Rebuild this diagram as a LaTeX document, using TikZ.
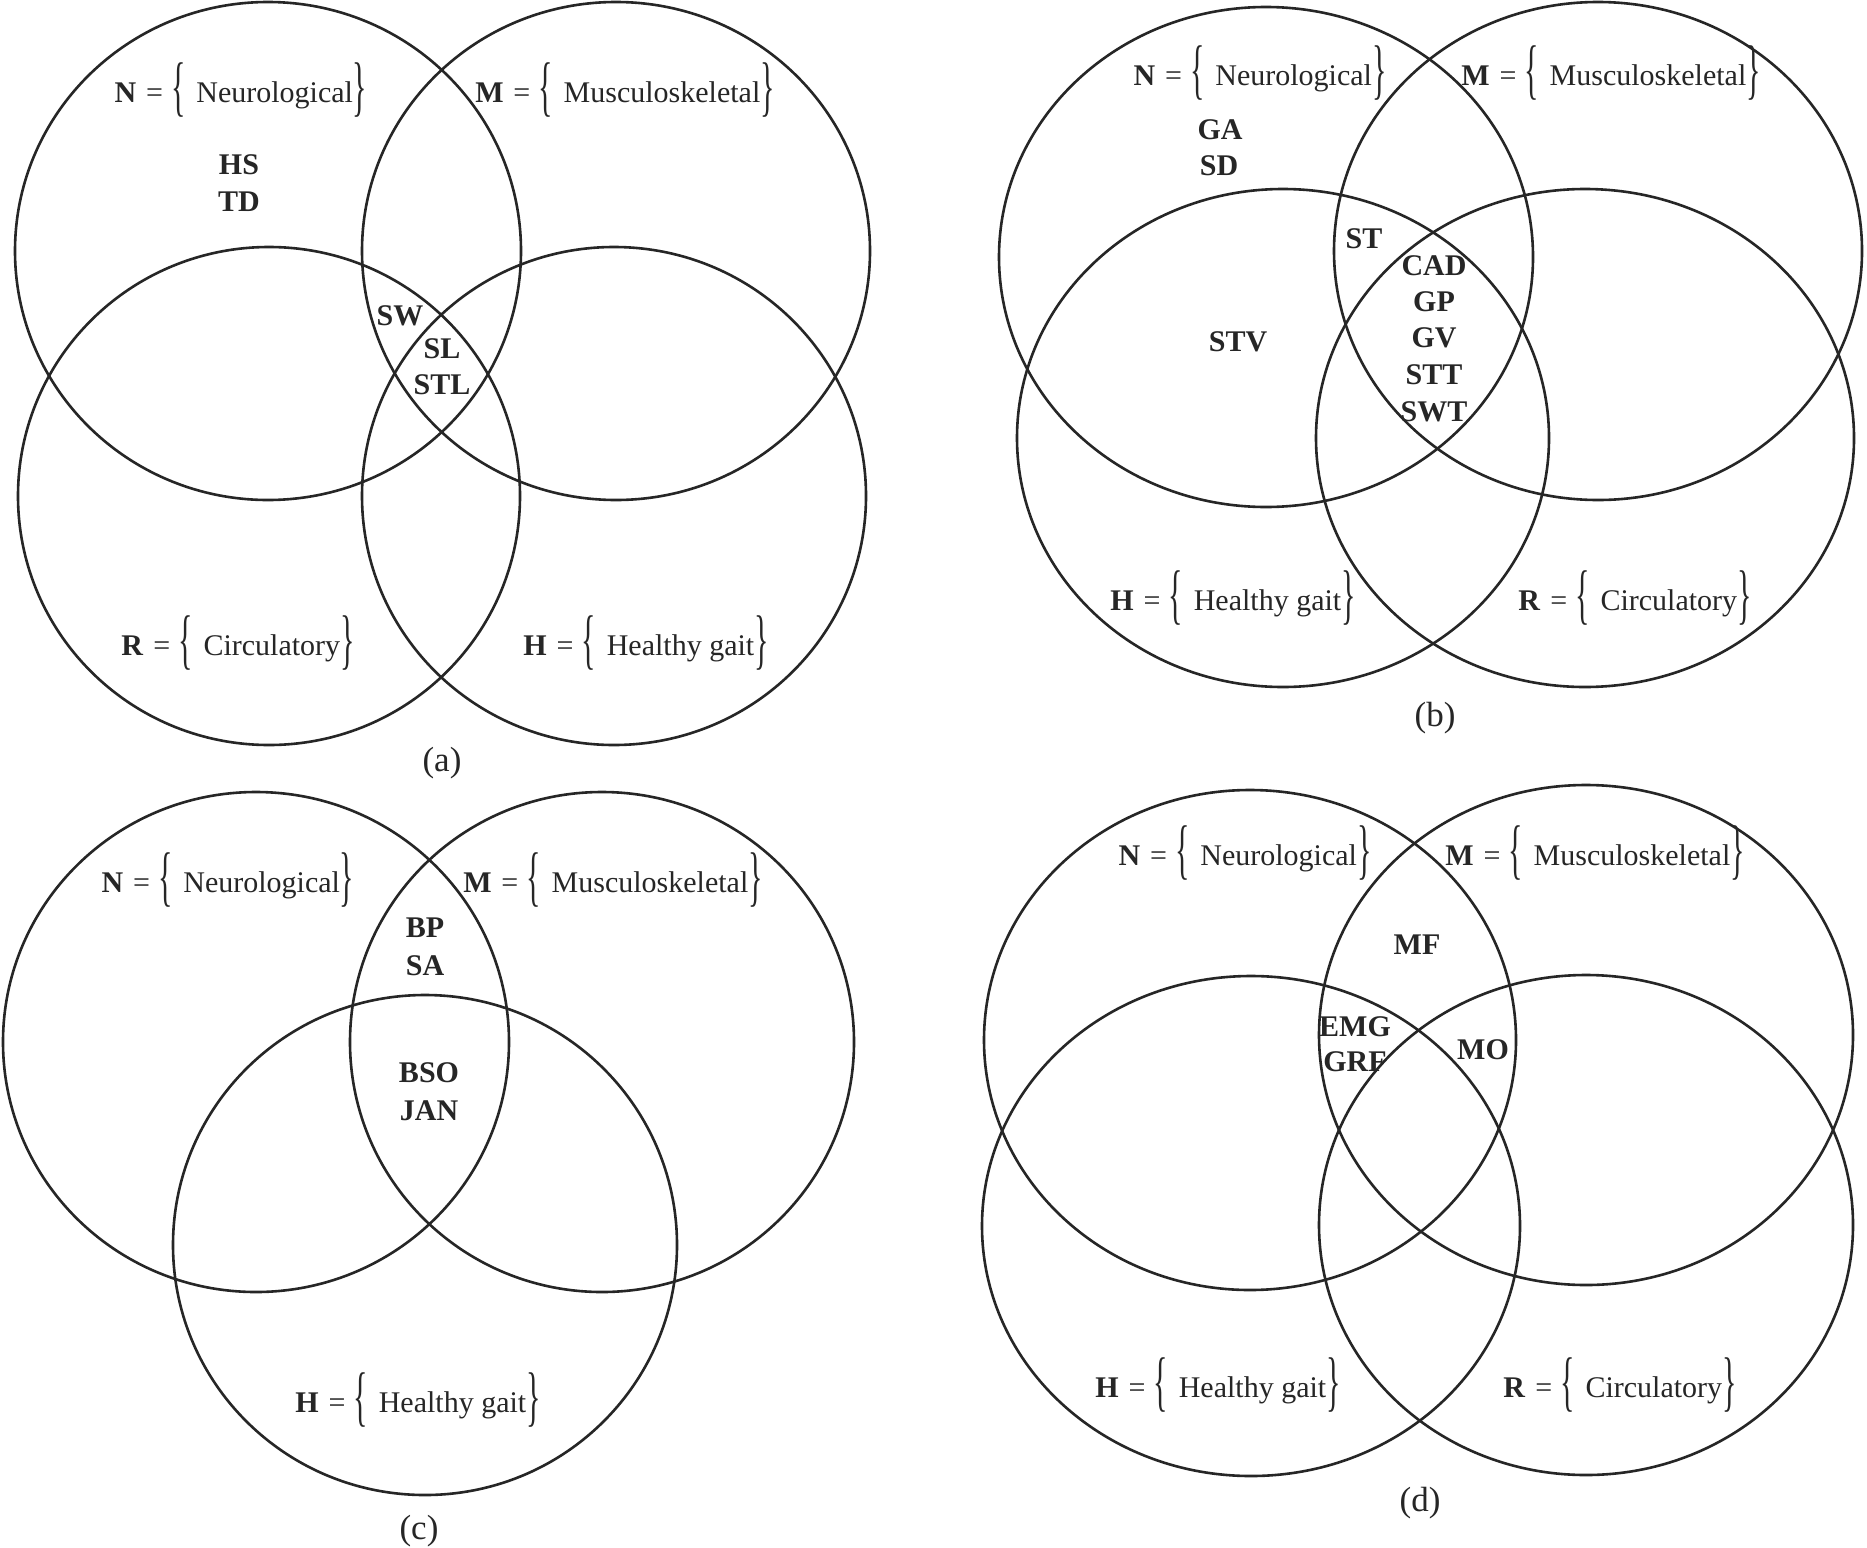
\documentclass[tikz,border=0pt]{standalone}
\usepackage{fontspec}
\setmainfont{Liberation Serif}
\usepackage{graphicx}
\newcommand{\lbr}{\raisebox{-0.22em}{\scalebox{1}[2.2]{\{}}}
\newcommand{\rbr}{\raisebox{-0.22em}{\scalebox{1}[2.2]{\}}}}
\newcommand{\setlab}[2]{\textbf{#1}\hspace{0.33em}=\hspace{0.28em}\lbr\hspace{0.35em}#2\rbr}
\tikzset{
  venn/.style={line width=2.6pt, draw=black!85},
  lab/.style={anchor=base, inner sep=0pt, text=black!85, font=\fontsize{30}{36}\selectfont},
  item/.style={lab, font=\fontsize{30}{36}\selectfont\bfseries},
  caption/.style={lab, font=\fontsize{35}{42}\selectfont}
}
\begin{document}
\begin{tikzpicture}[x=1pt,y=-1pt]
\useasboundingbox[fill=white] (0,0) rectangle (1867,1547);
% ---------- panel (a)
\draw[venn] (268,251) ellipse (253 and 249);
\draw[venn] (616,251) ellipse (254 and 249);
\draw[venn] (269,496) ellipse (251 and 249);
\draw[venn] (614,496) ellipse (252 and 249);
\node[lab] (aN) at (241,102) {\setlab{N}{Neurological}};
\node[lab] (aM) at (625,102) {\setlab{M}{Musculoskeletal}};
\node[item] (aHS) at (239,174) {HS};
\node[item] (aTD) at (239,211) {TD};
\node[item] (aSW) at (400,325) {SW};
\node[item] (aSL) at (442,358) {SL};
\node[item] (aSTL) at (442,394) {STL};
\node[lab] (aR) at (238,655) {\setlab{R}{Circulatory}};
\node[lab] (aH) at (646,655) {\setlab{H}{Healthy gait}};
\node[caption] (acap) at (442,771) {(a)};
% ---------- panel (b)
\draw[venn] (1266,257) ellipse (267 and 250);
\draw[venn] (1598,251) ellipse (264 and 249);
\draw[venn] (1283,438) ellipse (266 and 249);
\draw[venn] (1585,438) ellipse (269 and 249);
\node[lab] (bN) at (1260,85) {\setlab{N}{Neurological}};
\node[lab] (bM) at (1611,85) {\setlab{M}{Musculoskeletal}};
\node[item] (bGA) at (1220,139) {GA};
\node[item] (bSD) at (1219,175) {SD};
\node[item] (bST) at (1364,248) {ST};
\node[item] (bCAD) at (1434,275) {CAD};
\node[item] (bGP) at (1434,311) {GP};
\node[item] (bGV) at (1434,347) {GV};
\node[item] (bSTT) at (1434,384) {STT};
\node[item] (bSWT) at (1434,421) {SWT};
\node[item] (bSTV) at (1238,351) {STV};
\node[lab] (bH) at (1233,610) {\setlab{H}{Healthy gait}};
\node[lab] (bR) at (1635,610) {\setlab{R}{Circulatory}};
\node[caption] (bcap) at (1435,726) {(b)};
% ---------- panel (c)
\draw[venn] (256,1042) ellipse (253 and 250);
\draw[venn] (602,1042) ellipse (252 and 250);
\draw[venn] (425,1245) ellipse (252 and 250);
\node[lab] (cN) at (228,892) {\setlab{N}{Neurological}};
\node[lab] (cM) at (613,892) {\setlab{M}{Musculoskeletal}};
\node[item] (cBP) at (425,937) {BP};
\node[item] (cSA) at (425,975) {SA};
\node[item] (cBSO) at (429,1082) {BSO};
\node[item] (cJAN) at (429,1120) {JAN};
\node[lab] (cH) at (418,1412) {\setlab{H}{Healthy gait}};
\node[caption] (ccap) at (419,1539) {(c)};
% ---------- panel (d)
\draw[venn] (1250,1040) ellipse (266 and 250);
\draw[venn] (1586,1035) ellipse (267 and 250);
\draw[venn] (1251,1226) ellipse (269 and 250);
\draw[venn] (1586,1225) ellipse (267 and 250);
\node[lab] (dN) at (1245,865) {\setlab{N}{Neurological}};
\node[lab] (dM) at (1595,865) {\setlab{M}{Musculoskeletal}};
\node[item] (dMF) at (1417,954) {MF};
\node[item] (dEMG) at (1355,1036) {EMG};
\node[item] (dGRF) at (1355,1071) {GRF};
\node[item] (dMO) at (1483,1059) {MO};
\node[lab] (dH) at (1218,1397) {\setlab{H}{Healthy gait}};
\node[lab] (dR) at (1620,1397) {\setlab{R}{Circulatory}};
\node[caption] (dcap) at (1420,1511) {(d)};
\end{tikzpicture}
\end{document}
